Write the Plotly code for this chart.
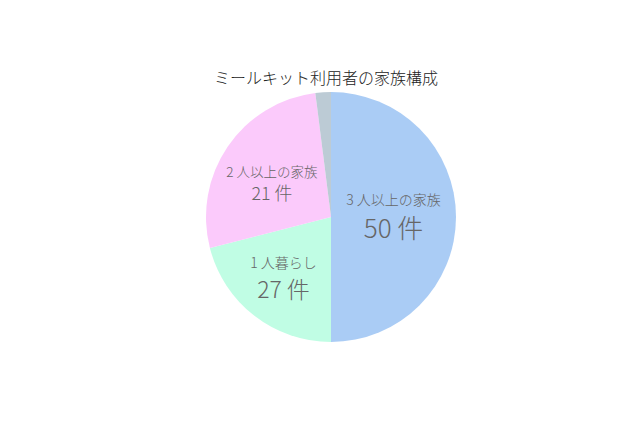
import plotly.graph_objects as go

labels = ["3 人以上の家族", "1 人暮らし", "2 人以上の家族", "その他"]
values = [50, 21, 27, 2]
display_counts = ["50", "27", "21", ""]
colors = ["#aaccf5", "#c0fde4", "#fbcafb", "#bccbd5"]
label_sizes = [14, 14, 14, 10]
count_sizes = [26, 23, 18.5, 10]
lead_blank = [False, False, True, False]

texts = []
for lab, cnt, ls, lb in zip(labels, display_counts, label_sizes, lead_blank):
    if cnt:
        t = f"<span style='font-size:{ls}px'>{lab}</span><br>{cnt} 件"
        if lb:
            t = "<span style='font-size:4px'> </span><br>" + t
        texts.append(t)
    else:
        texts.append("")

fig = go.Figure(go.Pie(
    labels=labels,
    values=values,
    text=texts,
    textinfo="text",
    textposition="inside",
    insidetextorientation="horizontal",
    sort=False,
    direction="clockwise",
    rotation=0,
    marker=dict(colors=colors, line=dict(width=0)),
    textfont=dict(family="Noto Sans CJK JP", size=count_sizes, color="#666666", weight=300),
    showlegend=False,
    hoverinfo="label+value",
))

fig.update_layout(
    width=640, height=426,
    margin=dict(l=6, r=0, t=84, b=92),
    paper_bgcolor="white",
    plot_bgcolor="white",
    title=dict(text="ミールキット利用者の家族構成", x=318/640, xanchor="center",
               y=1-70/426, yanchor="middle", yref="container",
               font=dict(family="Noto Sans CJK JP", size=16, color="#222222", weight=300)),
)

fig.write_html("out.html")
